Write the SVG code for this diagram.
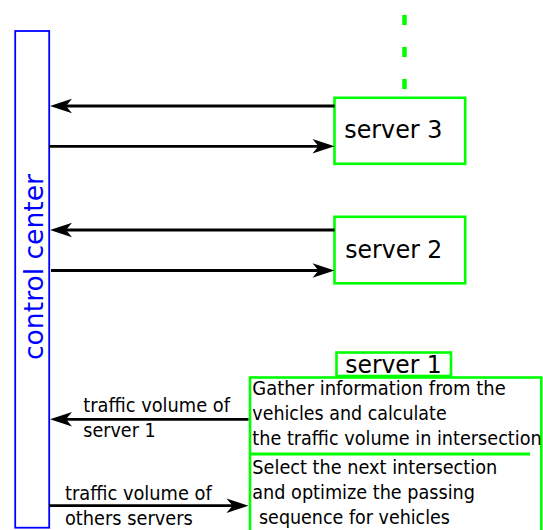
<svg xmlns="http://www.w3.org/2000/svg" width="543" height="530" viewBox="0 0 543 530">
  <style>
    .lbl { font-family: "DejaVu Sans Condensed", "DejaVu Sans", sans-serif; font-stretch: condensed; fill: #000; }
    .box { fill: #fff; stroke: #00ff00; stroke-width: 2.6; }
    .conn { stroke: #000; stroke-width: 2.8; fill: none; marker-end: url(#arrow); }
  </style>
  <defs>
    <marker id="arrow" markerUnits="userSpaceOnUse" viewBox="-14 -9 26 18" markerWidth="26" markerHeight="18" refX="0" refY="0" orient="auto">
      <path d="M10,0 L-12,-7.2 L-6,0 L-12,7.2 Z" fill="#000"/>
    </marker>
  </defs>
  <rect width="543" height="530" fill="#fff"/>

  <!-- link to further servers -->
  <line x1="404.5" y1="15" x2="404.5" y2="90" stroke="#00ff00" stroke-width="4.5" stroke-dasharray="10 22"/>

  <g id="control-center">
    <rect x="15.2" y="31" width="34" height="496.7" fill="#fff" stroke="#0000ff" stroke-width="1.8"/>
    <text class="lbl" transform="translate(42.7,360) rotate(-90)" font-size="27" style="fill:#0000ff" textLength="186" lengthAdjust="spacingAndGlyphs">control center</text>
  </g>

  <g id="server3">
    <rect class="box" x="334.5" y="97.8" width="130.7" height="66"/>
    <text class="lbl" x="344.3" y="137.7" font-size="25" textLength="98" lengthAdjust="spacingAndGlyphs">server 3</text>
  </g>

  <g id="server2">
    <rect class="box" x="334.5" y="216.8" width="130.7" height="66.5"/>
    <text class="lbl" x="345.3" y="257.7" font-size="25" textLength="97" lengthAdjust="spacingAndGlyphs">server 2</text>
  </g>

  <g id="server1">
    <rect class="box" x="250" y="377.5" width="291.3" height="165" stroke-width="3"/>
    <line x1="250" y1="454" x2="530" y2="454" stroke="#00ff00" stroke-width="3"/>
    <rect class="box" x="336.5" y="352.5" width="114.5" height="23.5" stroke-width="3"/>
    <text class="lbl" x="345.3" y="373.3" font-size="25" textLength="96.4" lengthAdjust="spacingAndGlyphs">server 1</text>
    <g font-size="19.5">
      <text class="lbl" x="252.3" y="395" textLength="253.4" lengthAdjust="spacingAndGlyphs">Gather information from the</text>
      <text class="lbl" x="252.3" y="420" textLength="194.4" lengthAdjust="spacingAndGlyphs">vehicles and calculate</text>
      <text class="lbl" x="252.3" y="445" textLength="289.4" lengthAdjust="spacingAndGlyphs">the traffic volume in intersection</text>
      <text class="lbl" x="252.3" y="473.5" textLength="245" lengthAdjust="spacingAndGlyphs">Select the next intersection</text>
      <text class="lbl" x="252.3" y="498.5" textLength="222.7" lengthAdjust="spacingAndGlyphs">and optimize the passing</text>
      <text class="lbl" x="259" y="523.5" textLength="191" lengthAdjust="spacingAndGlyphs">sequence for vehicles</text>
    </g>
  </g>

  <g id="connectors">
    <line class="conn" x1="334.5" y1="106" x2="60" y2="106"/>
    <line class="conn" x1="49" y1="146.3" x2="324.5" y2="146.3"/>
    <line class="conn" x1="334.5" y1="230" x2="60" y2="230"/>
    <line class="conn" x1="51" y1="270.5" x2="324.5" y2="270.5"/>
    <line class="conn" x1="248.5" y1="419.3" x2="60" y2="419.3"/>
    <line class="conn" x1="49" y1="505.7" x2="238.5" y2="505.7"/>
    <g font-size="19">
      <text class="lbl" x="83.3" y="412" textLength="146.7" lengthAdjust="spacingAndGlyphs">traffic volume of</text>
      <text class="lbl" x="83.3" y="437" textLength="72.3" lengthAdjust="spacingAndGlyphs">server 1</text>
      <text class="lbl" x="65" y="499.5" textLength="146.7" lengthAdjust="spacingAndGlyphs">traffic volume of</text>
      <text class="lbl" x="65" y="525" textLength="127.7" lengthAdjust="spacingAndGlyphs">others servers</text>
    </g>
  </g>
</svg>
